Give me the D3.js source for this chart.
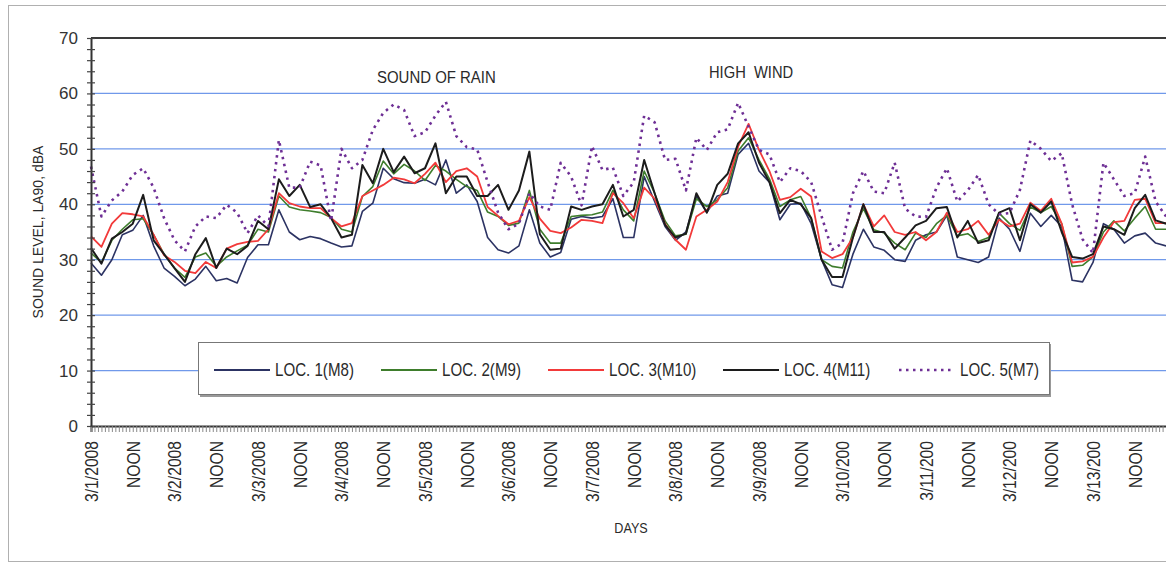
<!DOCTYPE html>
<html>
<head>
<meta charset="utf-8">
<script src="https://cdn.jsdelivr.net/npm/d3@7"></script>
<style>
  body { margin: 0; background: #fff; }
  svg { display: block; font-family: Arial, "Liberation Sans", sans-serif; }
</style>
</head>
<body>
<svg id="chart"></svg>
<script>
// readings every 3 hours starting 3/1/2008 00:00
const START = new Date(2008, 2, 1);
const STEP_HOURS = 3;
const LAST_LABEL = new Date(2008, 2, 13, 12);

const yTicks = [0, 10, 20, 30, 40, 50, 60, 70];
const seriesNames = ["LOC. 1(M8)", "LOC. 2(M9)", "LOC. 3(M10)", "LOC. 4(M11)", "LOC. 5(M7)"];

const loc1 = [
  29.4, 27.2, 30, 34.5, 35.3, 38, 32.5, 28.5, 27, 25.3, 26.5, 28.8, 26.2, 26.6, 25.8, 30.4, 32.7, 32.7, 39, 35, 33.6, 34.2, 33.8, 33, 32.3, 32.5, 38.7, 40.2,
  46.5, 44.6, 43.9, 43.8, 44.5, 43.5, 48, 42, 43.5, 40.5, 34, 31.8, 31.2, 32.5, 39, 33, 30.5, 31.3, 37.3, 37.8, 37.5, 37.8, 41, 34, 34, 45,
  40.5, 36, 33.5, 35, 41.5, 38.5, 41.5, 42, 49, 51, 46, 44, 37.2, 40, 40.2, 36.5, 30, 25.5, 25, 31, 35.5, 32.3, 31.7, 30,
  29.7, 33.5, 34.5, 35, 38, 30.5, 30, 29.5, 30.5, 37.5, 35.5, 31.5, 38.4, 36, 38, 36, 26.3, 26, 29.5, 36.5, 35.5, 33, 34.3, 34.8, 33, 32.5
];
const loc2 = [
  31.2, 29.5, 33.5, 35.5, 37.2, 37.4, 34.5, 31, 28.5, 26.8, 30.5, 31.2, 28.8, 30.5, 31.6, 32.6, 35.5, 35, 41.5, 39.5, 39, 38.8, 38.5, 37.6, 35.5, 35, 41.4, 43.2,
  47.8, 45.5, 47.2, 46, 44.3, 47, 46, 44.5, 43.2, 42.5, 38.6, 37.8, 36.2, 36.6, 42.5, 35.5, 33, 33, 37.8, 38, 38.1, 38.6, 42.5, 39, 37, 46,
  42, 37, 34.3, 34.6, 41, 39.6, 40.8, 43, 49.6, 52, 48, 44.6, 39.6, 40.8, 41.4, 37.5, 30, 28.8, 28.5, 35, 39.2, 35.4, 34.8, 33,
  31.8, 34.8, 34, 36.5, 38, 34.3, 34.7, 33.3, 34, 38.4, 36.5, 35.3, 39.5, 38.5, 39.6, 36.5, 28.8, 29, 30.5, 35, 37, 35.2, 37.5, 39.6, 35.5, 35.5
];
const loc3 = [
  34.2, 32.3, 36.5, 38.4, 38.2, 37.8, 34.5, 30.8, 29.6, 28, 27.6, 29.6, 28.5, 32, 32.8, 33.2, 33.4, 35.5, 42, 40.2, 39.6, 39.3, 39.3, 37.5, 36, 36.6, 41.5, 42.5,
  43.5, 44.8, 44.5, 43.8, 45.5, 47.5, 44, 46, 46.5, 45, 39.5, 37.9, 36.4, 37, 41.3, 37.4, 35.2, 34.8, 35.8, 37.2, 37, 36.6, 42, 40.2, 37.5, 43,
  41, 36.5, 33.6, 31.8, 37.8, 39, 40.5, 44, 50.4, 54.5, 49.8, 46, 40.8, 41.3, 42.8, 41.4, 31.5, 30.3, 31, 34, 40, 36, 38, 35,
  34.5, 35, 33.5, 35, 38.5, 35, 35.5, 37, 34.5, 37.2, 36, 36.5, 40.3, 38.8, 41, 36.5, 29.5, 29.7, 30.5, 34, 36.8, 37, 40.8, 41, 36.6, 36.6
];
const loc4 = [
  32.1, 29.3, 33.8, 35, 36.5, 41.7, 33.5, 31, 28.5, 26, 31, 33.9, 28.5, 32, 31, 32.5, 37, 35.5, 44.5, 41.5, 43.5, 39.5, 40, 37.5, 34, 34.5, 47.1, 43.8,
  50, 45.8, 48.6, 45.6, 46.5, 51, 42, 45, 45, 41.5, 41.5, 43.5, 39, 42.5, 49.5, 34.6, 31.8, 32, 39.6, 39, 39.6, 40, 43.5, 37.8, 39, 48,
  42, 36.3, 34, 34.7, 42, 38.5, 43.5, 45.5, 51, 53, 47.5, 44, 38.4, 40.8, 40, 37.5, 30, 26.9, 26.9, 34, 40, 35, 35, 32,
  34, 36.2, 37, 39.3, 39.5, 34, 37, 33, 33.5, 38.5, 39.3, 33.5, 40, 38.5, 40.5, 35, 30.5, 30.2, 31, 36, 35.5, 34.5, 39.3, 41.7, 37.1, 36.5
];
const loc5 = [
  46.8, 37.8, 40.7, 42.3, 45.3, 46.5, 43, 37.5, 33.5, 31.5, 36, 37.8, 37.5, 39.9, 38.5, 34.8, 38, 36, 51.6, 43, 43, 47.7, 47, 37, 50, 46.5, 48, 53.4,
  56.5, 58, 57, 52.3, 53, 56, 58.5, 52.3, 50.3, 49.9, 44, 38.5, 35.5, 36.5, 42, 39.6, 39, 47.5, 45, 39.8, 50.5, 46.2, 46.6, 41.5, 44, 56,
  54.8, 48, 48.2, 42.5, 52, 49.8, 53, 53.5, 58.3, 54, 49.8, 49, 44, 46.5, 46, 44, 37.8, 31.8, 33, 42, 46, 42.3, 42, 47.5,
  39.2, 37.8, 37.7, 43, 46.5, 40.5, 42.5, 45.3, 40, 38.2, 38.4, 42.6, 51.5, 50, 47.8, 49.2, 40, 33.7, 31.2, 47.5, 44.5, 41.5, 42, 48.6, 40.5, 37.8
];

const seriesValues = [loc1, loc2, loc3, loc4, loc5];
const colors = ["#2c3363", "#3e7d2c", "#f23a3a", "#1c1c1c", "#6e2f95"];
const widths = [1.6, 1.6, 1.8, 2, 2.6];
const dashes = [null, null, null, null, "2.5,4.5"];

const width = 1166, height = 564;
const plotLeft = 91, plotTop = 38, plotBottom = 426;
const pxPerDay = 83.5;

const svg = d3.select("#chart")
  .attr("width", width)
  .attr("height", height);

// outer frame of the chart area
svg.append("rect")
  .attr("x", 8.5).attr("y", 5.5)
  .attr("width", 1300).attr("height", 556)
  .attr("fill", "none")
  .attr("stroke", "#b0b0b0");

const x = d3.scaleTime()
  .domain([START, d3.timeDay.offset(START, 14)])
  .range([plotLeft, plotLeft + 14 * pxPerDay]);

const y = d3.scaleLinear()
  .domain([0, 70])
  .range([plotBottom, plotTop]);

// grid lines
svg.append("g")
  .selectAll("line")
  .data(yTicks.filter(d => d > 0 && d < 70))
  .enter()
  .append("line")
  .attr("x1", plotLeft).attr("x2", width)
  .attr("y1", d => y(d)).attr("y2", d => y(d))
  .attr("stroke", "#7099ea")
  .attr("stroke-width", 1.2);

// top border of plot
svg.append("line")
  .attr("x1", plotLeft).attr("x2", width)
  .attr("y1", plotTop).attr("y2", plotTop)
  .attr("stroke", "#3a3a3a")
  .attr("stroke-width", 2);

// lines
const line = d3.line()
  .x((d, i) => x(d3.timeHour.offset(START, i * STEP_HOURS)))
  .y(d => y(d));

seriesValues.forEach((vals, k) => {
  svg.append("path")
    .datum(vals)
    .attr("d", line)
    .attr("fill", "none")
    .attr("stroke", colors[k])
    .attr("stroke-width", widths[k])
    .attr("stroke-linejoin", "round")
    .attr("stroke-dasharray", dashes[k]);
});

// x axis: hourly ticks
const xMinor = svg.append("g")
  .attr("transform", `translate(0,${plotBottom})`)
  .call(d3.axisBottom(x).ticks(d3.timeHour.every(1)).tickSize(6).tickFormat(""));
xMinor.selectAll(".tick line").attr("stroke", "#8a8a8a");
xMinor.select(".domain").attr("stroke", "#333").attr("stroke-width", 2);

// x axis labels every 12 hours (only those that fit in the window)
const fmtLabel = d => d.getHours() === 12 ? "NOON"
  : `${d.getMonth() + 1}/${d.getDate()}/${d.getFullYear()}`.slice(0, 8);
const labelTicks = d3.timeHour.every(12).range(START, d3.timeHour.offset(LAST_LABEL, 1));

const xLab = svg.append("g")
  .attr("transform", `translate(0,${plotBottom})`)
  .call(d3.axisBottom(x).tickValues(labelTicks).tickSize(0).tickFormat(fmtLabel));
xLab.select(".domain").remove();
xLab.selectAll("text")
  .attr("x", 0).attr("y", 0)
  .attr("dy", "0.36em")
  .attr("text-anchor", "end")
  .attr("transform", "translate(0,15) rotate(-90) scale(0.87,1)")
  .attr("font-size", 18)
  .attr("fill", "#2a2a2a");

// y axis
const yAxis = svg.append("g")
  .attr("transform", `translate(${plotLeft},0)`)
  .call(d3.axisLeft(y).tickValues(d3.range(0, 71, 2)).tickSize(0).tickFormat(""));
yAxis.select(".domain").attr("stroke", "#333").attr("stroke-width", 2);
yAxis.selectAll(".tick line")
  .attr("x1", -4).attr("x2", 4)
  .attr("stroke", "#444").attr("stroke-width", 1.2);

const yLab = svg.append("g")
  .attr("transform", `translate(${plotLeft},0)`)
  .call(d3.axisLeft(y).tickValues(yTicks).tickSize(0).tickPadding(13));
yLab.select(".domain").remove();
yLab.selectAll("text")
  .attr("font-size", 17)
  .attr("fill", "#333");

// axis titles
svg.append("text")
  .attr("transform", "translate(43,232) rotate(-90)")
  .attr("text-anchor", "middle")
  .attr("font-size", 14)
  .attr("fill", "#2a2a2a")
  .text("SOUND LEVEL, LA90, dBA");

svg.append("text")
  .attr("transform", "translate(631,533) scale(0.9,1)")
  .attr("text-anchor", "middle")
  .attr("font-size", 14)
  .attr("fill", "#2a2a2a")
  .text("DAYS");

// annotations
svg.append("text")
  .attr("transform", "translate(377,83) scale(0.88,1)")
  .attr("font-size", 17)
  .attr("fill", "#2a2a2a")
  .text("SOUND OF RAIN");

svg.append("text")
  .attr("transform", "translate(709,78) scale(0.92,1)")
  .attr("font-size", 16)
  .attr("fill", "#2a2a2a")
  .style("white-space", "pre")
  .text("HIGH  WIND");

// legend
const legend = svg.append("g");
legend.append("rect")
  .attr("x", 200).attr("y", 344)
  .attr("width", 851).attr("height", 53)
  .attr("fill", "#999");
legend.append("rect")
  .attr("x", 198.5).attr("y", 342.5)
  .attr("width", 851).attr("height", 52)
  .attr("fill", "#fff")
  .attr("stroke", "#777");

const legendX = [214, 381, 548, 723, 899];
seriesNames.forEach((name, k) => {
  legend.append("line")
    .attr("x1", legendX[k]).attr("x2", legendX[k] + 56)
    .attr("y1", 370).attr("y2", 370)
    .attr("stroke", colors[k])
    .attr("stroke-width", k === 4 ? 2.6 : 1.8)
    .attr("stroke-dasharray", dashes[k]);
  legend.append("text")
    .attr("transform", `translate(${legendX[k] + 61},376) scale(0.84,1)`)
    .attr("font-size", 18)
    .attr("fill", "#2a2a2a")
    .text(name);
});
</script>
</body>
</html>
